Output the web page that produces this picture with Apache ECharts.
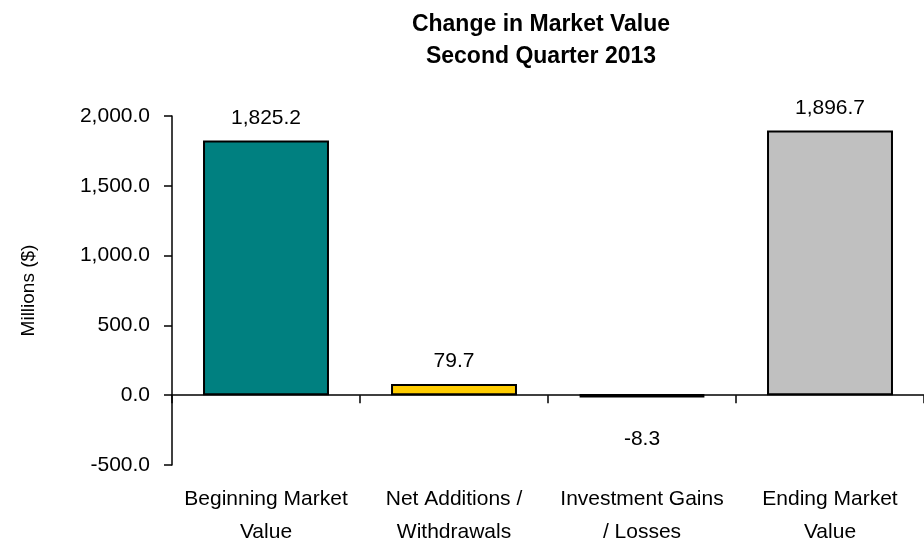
<!DOCTYPE html>
<html>
<head>
<meta charset="utf-8">
<script src="https://cdn.jsdelivr.net/npm/echarts@6/dist/echarts.min.js"></script>
<style>
  html, body { margin: 0; padding: 0; background: #fff; }
  #main { width: 924px; height: 549px; }
</style>
</head>
<body>
<div id="main"></div>
<script>
var categories = ['Beginning Market\nValue', 'Net Additions /\nWithdrawals', 'Investment Gains\n/ Losses', 'Ending Market\nValue'];
var values = [1825.2, 79.7, -8.3, 1896.7];
var barColors = ['#008080', '#FFCC00', '#000000', '#C0C0C0'];
var yTicks = [-500, 0, 500, 1000, 1500, 2000];

var font = '"Liberation Sans", Arial, sans-serif';

function fmt(v) {
    return v.toLocaleString('en-US', { minimumFractionDigits: 1, maximumFractionDigits: 1 });
}

var myChart = echarts.init(document.getElementById('main'));
var option = {
    backgroundColor: '#fff',
    textStyle: { fontFamily: font, color: '#000' },
    title: {
        text: 'Change in Market Value\nSecond Quarter 2013',
        left: 536,
        top: 4,
        textAlign: 'center',
        textStyle: { fontFamily: font, fontSize: 23, fontWeight: 'bold', color: '#000', lineHeight: 32 }
    },
    grid: { left: 172, right: 0, top: 116, bottom: 83, containLabel: false },
    xAxis: [{
        type: 'category',
        data: categories,
        axisLine: { show: true, onZero: true, lineStyle: { color: '#000', width: 1.5 } },
        axisTick: { show: true, length: 8, lineStyle: { color: '#000', width: 1.5 } },
        axisLabel: { show: false }
    }, {
        type: 'category',
        data: categories,
        position: 'bottom',
        axisLine: { show: false, onZero: false },
        axisTick: { show: false },
        axisLabel: { show: true, interval: 0, margin: 18, fontSize: 21, lineHeight: 33, color: '#000', fontFamily: font }
    }],
    yAxis: {
        type: 'value',
        min: yTicks[0],
        max: yTicks[yTicks.length - 1],
        interval: 500,
        name: 'Millions ($)',
        nameLocation: 'middle',
        nameGap: 134,
        nameTextStyle: { fontSize: 19, color: '#000', fontFamily: font },
        axisLine: { show: true, lineStyle: { color: '#000', width: 1.5 } },
        axisTick: { show: true, length: 8, lineStyle: { color: '#000', width: 1.5 } },
        splitLine: { show: false },
        axisLabel: { fontSize: 21, color: '#000', margin: 22, fontFamily: font, formatter: fmt }
    },
    series: [{
        type: 'bar',
        xAxisIndex: 0,
        barWidth: '67%',
        data: values.map(function (v, i) {
            return {
                value: v,
                // 负值柱子很薄，加粗边框让它看得见
                itemStyle: { color: barColors[i], borderWidth: v < 0 ? 3.5 : 2 },
                label: { position: v < 0 ? 'bottom' : 'top', distance: v < 0 ? 31 : 12 }
            };
        }),
        itemStyle: { borderColor: '#000', borderWidth: 2 },
        label: {
            show: true,
            fontSize: 21,
            color: '#000',
            fontFamily: font,
            formatter: function (p) { return fmt(p.value); }
        }
    }]
};
myChart.setOption(option);
window.addEventListener("resize", function () {
    myChart.resize();
});
</script>
</body>
</html>
